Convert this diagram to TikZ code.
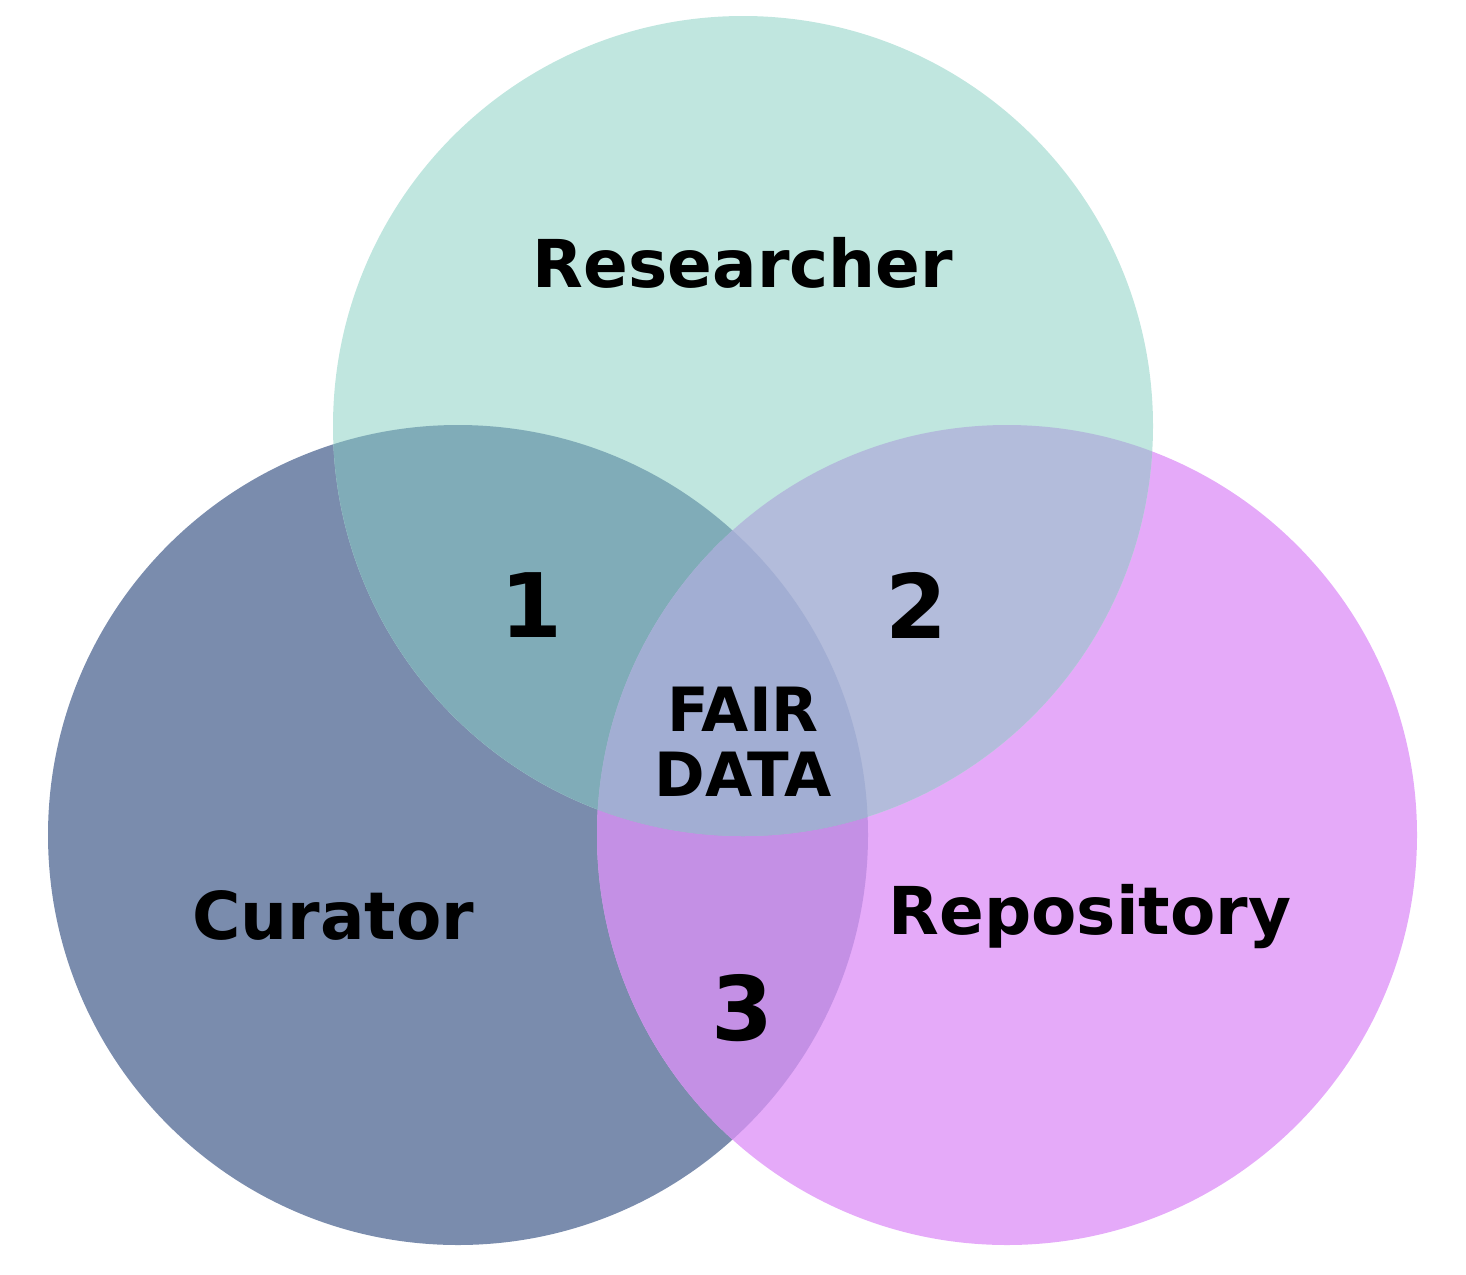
\documentclass[tikz,border=0pt]{standalone}
\usepackage{fontspec}
\setmainfont{DejaVu Sans}
\definecolor{colR}{HTML}{C0E6DF}
\definecolor{colC}{HTML}{7A8CAD}
\definecolor{colP}{HTML}{E5AAF9}
\definecolor{colRC}{HTML}{80ACB8}
\definecolor{colRP}{HTML}{B3BCDB}
\definecolor{colCP}{HTML}{C490E5}
\definecolor{colRCP}{HTML}{A2AED3}
\begin{document}
\begin{tikzpicture}[x=1pt,y=-1pt,
  lab/.style={font=\bfseries\fontsize{66}{72}\selectfont, text=black, inner sep=0pt},
  num/.style={font=\bfseries\fontsize{89}{96}\selectfont, text=black, inner sep=0pt},
  mid/.style={font=\bfseries\fontsize{61}{65}\selectfont, text=black, inner sep=0pt, align=center}]
\useasboundingbox (0,0) rectangle (1466,1274);
\coordinate (R) at (743,426);
\coordinate (C) at (458,835);
\coordinate (P) at (1007,835);
\def\rad{410pt}
\fill[colC] (C) circle (\rad);
\fill[colP] (P) circle (\rad);
\fill[colR] (R) circle (\rad);
\begin{scope}
  \clip (C) circle (\rad);
  \fill[colCP] (P) circle (\rad);
\end{scope}
\begin{scope}
  \clip (R) circle (\rad);
  \fill[colRC] (C) circle (\rad);
  \fill[colRP] (P) circle (\rad);
  \clip (C) circle (\rad);
  \fill[colRCP] (P) circle (\rad);
\end{scope}
\node[lab] (researcher) at (743,263) {Researcher};
\node[lab] (curator) at (333,915) {Curator};
\node[lab] (repository) at (1090,917) {Repository};
\node[num] (one) at (531,605) {1};
\node[num] (two) at (916,605) {2};
\node[num] (three) at (742,1008) {3};
\node[mid] (fair) at (743,742) {FAIR\\DATA};
\end{tikzpicture}
\end{document}
